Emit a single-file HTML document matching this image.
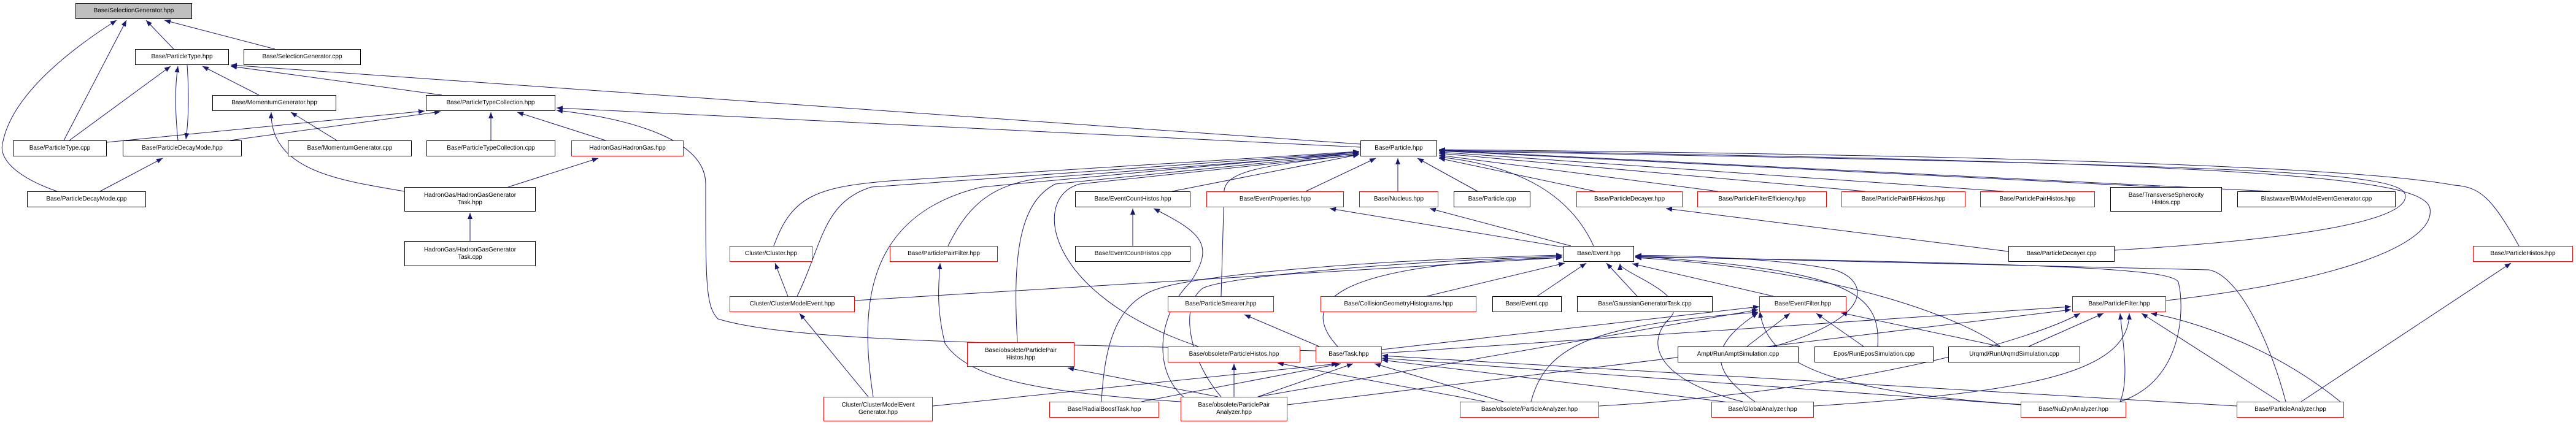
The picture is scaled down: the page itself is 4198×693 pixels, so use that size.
<!DOCTYPE html>
<html><head><meta charset="utf-8"><style>
body{margin:0;width:4198px;height:693px;background:#fff;position:relative;overflow:hidden;font-family:"Liberation Sans",Arial,sans-serif;}
.n{position:absolute;box-sizing:border-box;border:1px solid #000;background:#fff;font-size:10px;line-height:12px;text-align:center;display:flex;align-items:center;justify-content:center;white-space:nowrap;color:#000;}
.r{border-color:#ff0000;}
.g{background:#bfbfbf;}
svg{position:absolute;left:0;top:0;}
</style></head><body>
<svg width="4198" height="693" viewBox="0 0 4198 693">
<defs><marker id="a" markerWidth="10" markerHeight="8" refX="10" refY="4" orient="auto" markerUnits="userSpaceOnUse"><path d="M0,0 L10,4 L0,8 z" fill="#191970"/></marker></defs>
<g fill="none" stroke="#191970" stroke-width="1" marker-end="url(#a)">
<path d="M283,80 L238,33"/>
<path d="M448,80 L268,33"/>
<path d="M104,229 L206,33"/>
<path d="M93,312 C30,290 -5,260 5,230 C20,160 100,90 190,33"/>
<path d="M290,229 C285,180 285,140 290,108"/>
<path d="M305,106 C308,150 308,190 303,227"/>
<path d="M113,229 L278,108"/>
<path d="M422,155 L330,108"/>
<path d="M720,155 L376,108"/>
<path d="M2217,235 L376,106"/>
<path d="M174,232 L692,181"/>
<path d="M375,229 L718,182"/>
<path d="M800,229 L800,183"/>
<path d="M987,229 L843,183"/>
<path d="M2217,240 L907,176"/>
<path d="M2144,572 C1700,560 1300,560 1170,520 C1150,500 1150,460 1150,300 C1150,220 1000,190 907,180"/>
<path d="M549,229 L474,183"/>
<path d="M659,312 C560,295 440,280 442,183"/>
<path d="M828,305 L975,258"/>
<path d="M766,393 L766,347"/>
<path d="M163,312 L265,258"/>
<path d="M1261,401 C1290,320 1330,305 1450,295 L2215,247"/>
<path d="M1299,483 C1340,400 1340,330 1420,305 L2215,248"/>
<path d="M1423,647 C1400,500 1410,350 1600,305 L2215,248"/>
<path d="M1545,401 C1580,330 1620,300 1700,290 L2215,250"/>
<path d="M1658,558 C1650,420 1660,330 1720,300 L2215,250"/>
<path d="M1953,565 C1700,480 1680,320 1760,300 L2215,252"/>
<path d="M1910,312 L2215,252"/>
<path d="M1990,483 L1995,310 C2000,280 2050,270 2215,252"/>
<path d="M2128,312 L2242,258"/>
<path d="M2278,312 L2278,258"/>
<path d="M2408,312 L2310,258"/>
<path d="M2600,312 L2345,258"/>
<path d="M2800,312 L2345,253"/>
<path d="M3040,312 L2345,250"/>
<path d="M3265,312 L2345,248"/>
<path d="M3520,305 L2345,246"/>
<path d="M3700,312 L2345,245"/>
<path d="M2597,401 C2560,320 2480,270 2345,256"/>
<path d="M3446,408 C3750,390 3920,360 3920,320 C3920,280 3700,270 2345,246"/>
<path d="M3530,490 C3800,460 3970,400 3960,340 C3950,290 3700,265 2345,245"/>
<path d="M4105,401 C4060,320 4040,305 4000,302 C3800,265 3000,250 2345,244"/>
<path d="M2548,403 L2167,340"/>
<path d="M2560,401 L2330,340"/>
<path d="M1393,490 L2546,420"/>
<path d="M2180,565 C2120,500 2150,430 2546,420"/>
<path d="M2325,483 L2550,429"/>
<path d="M2505,483 L2585,429"/>
<path d="M2668,483 L2618,429"/>
<path d="M2890,483 L2660,430"/>
<path d="M2890,565 C3050,520 3050,460 2990,440 C2900,420 2700,415 2665,417"/>
<path d="M3060,565 C3065,480 3020,440 2665,418"/>
<path d="M3260,565 C3200,520 3000,440 2665,420"/>
<path d="M3455,655 C3560,620 3560,500 3550,460 C3540,440 3400,430 2665,419"/>
<path d="M3725,655 C3700,560 3650,450 3600,440 L2665,418"/>
<path d="M1795,655 C1800,560 1820,490 1890,470 C1950,450 2200,425 2546,416"/>
<path d="M1990,647 C1940,590 1920,500 1960,470 C2000,450 2300,425 2546,418"/>
<path d="M2840,655 C2700,620 2680,560 2720,520 C2760,480 2640,445 2640,430"/>
<path d="M2252,570 L2867,500"/>
<path d="M2847,565 L2917,511"/>
<path d="M3037,565 L2960,511"/>
<path d="M3260,565 L3000,510"/>
<path d="M2495,655 C2520,560 2600,530 2865,509"/>
<path d="M2050,647 L2865,505"/>
<path d="M2860,655 C2780,600 2790,560 2865,510"/>
<path d="M3300,660 C3000,640 2880,600 2868,508"/>
<path d="M2252,576 L3375,500"/>
<path d="M2098,660 L3375,505"/>
<path d="M2606,662 C3000,640 3300,560 3390,511"/>
<path d="M3306,565 L3428,511"/>
<path d="M3455,655 C3470,620 3460,560 3455,511"/>
<path d="M2956,662 C3300,640 3470,610 3470,511"/>
<path d="M3715,655 L3490,511"/>
<path d="M3820,660 C3700,560 3560,520 3505,511"/>
<path d="M1520,662 L2180,593"/>
<path d="M1860,655 L2185,593"/>
<path d="M2050,647 L2205,593"/>
<path d="M2450,655 L2240,593"/>
<path d="M2850,660 L2252,587"/>
<path d="M3293,660 L2252,584"/>
<path d="M3645,662 L2252,580"/>
<path d="M2420,655 L2082,592"/>
<path d="M2011,647 L2011,593"/>
<path d="M1985,647 L1740,600"/>
<path d="M1924,655 C1700,640 1580,620 1540,560 C1525,500 1530,460 1532,429"/>
<path d="M1415,647 L1303,511"/>
<path d="M1284,483 L1263,429"/>
<path d="M1846,401 L1846,340"/>
<path d="M1940,655 C1880,620 1880,520 1940,460 C1980,400 1960,380 1880,340"/>
<path d="M2150,565 L2028,513"/>
<path d="M3273,410 L2715,340"/>
<path d="M3750,655 L4092,429"/>
</g>
</svg>
<div class="n g" style="left:123px;top:5px;width:190px;height:26px">Base/SelectionGenerator.hpp</div>
<div class="n" style="left:220px;top:80px;width:153px;height:26px">Base/ParticleType.hpp</div>
<div class="n" style="left:397px;top:80px;width:191px;height:26px">Base/SelectionGenerator.cpp</div>
<div class="n" style="left:346px;top:155px;width:202px;height:26px">Base/MomentumGenerator.hpp</div>
<div class="n" style="left:694px;top:155px;width:211px;height:26px">Base/ParticleTypeCollection.hpp</div>
<div class="n" style="left:21px;top:229px;width:153px;height:26px">Base/ParticleType.cpp</div>
<div class="n" style="left:200px;top:229px;width:194px;height:26px">Base/ParticleDecayMode.hpp</div>
<div class="n" style="left:469px;top:229px;width:202px;height:26px">Base/MomentumGenerator.cpp</div>
<div class="n" style="left:695px;top:229px;width:210px;height:26px">Base/ParticleTypeCollection.cpp</div>
<div class="n r" style="left:931px;top:229px;width:183px;height:26px">HadronGas/HadronGas.hpp</div>
<div class="n" style="left:44px;top:312px;width:194px;height:26px">Base/ParticleDecayMode.cpp</div>
<div class="n" style="left:659px;top:305px;width:214px;height:40px">HadronGas/HadronGasGenerator<br>Task.hpp</div>
<div class="n" style="left:659px;top:393px;width:214px;height:41px">HadronGas/HadronGasGenerator<br>Task.cpp</div>
<div class="n" style="left:2217px;top:229px;width:125px;height:26px">Base/Particle.hpp</div>
<div class="n" style="left:1752px;top:312px;width:188px;height:26px">Base/EventCountHistos.hpp</div>
<div class="n r" style="left:1966px;top:312px;width:224px;height:26px">Base/EventProperties.hpp</div>
<div class="n r" style="left:2215px;top:312px;width:129px;height:26px">Base/Nucleus.hpp</div>
<div class="n" style="left:2369px;top:312px;width:125px;height:26px">Base/Particle.cpp</div>
<div class="n r" style="left:2569px;top:312px;width:173px;height:26px">Base/ParticleDecayer.hpp</div>
<div class="n r" style="left:2766px;top:312px;width:211px;height:26px">Base/ParticleFilterEfficiency.hpp</div>
<div class="n r" style="left:3001px;top:312px;width:202px;height:26px">Base/ParticlePairBFHistos.hpp</div>
<div class="n r" style="left:3227px;top:312px;width:187px;height:26px">Base/ParticlePairHistos.hpp</div>
<div class="n" style="left:3439px;top:305px;width:182px;height:40px">Base/TransverseSpherocity<br>Histos.cpp</div>
<div class="n" style="left:3646px;top:312px;width:258px;height:26px">Blastwave/BWModelEventGenerator.cpp</div>
<div class="n r" style="left:1189px;top:401px;width:135px;height:26px">Cluster/Cluster.hpp</div>
<div class="n r" style="left:1450px;top:401px;width:176px;height:26px">Base/ParticlePairFilter.hpp</div>
<div class="n" style="left:1752px;top:401px;width:188px;height:26px">Base/EventCountHistos.cpp</div>
<div class="n" style="left:2548px;top:401px;width:115px;height:26px">Base/Event.hpp</div>
<div class="n" style="left:3273px;top:401px;width:173px;height:26px">Base/ParticleDecayer.cpp</div>
<div class="n r" style="left:4030px;top:401px;width:163px;height:26px">Base/ParticleHistos.hpp</div>
<div class="n r" style="left:1189px;top:483px;width:204px;height:26px">Cluster/ClusterModelEvent.hpp</div>
<div class="n r" style="left:1903px;top:483px;width:173px;height:26px">Base/ParticleSmearer.hpp</div>
<div class="n r" style="left:2152px;top:483px;width:254px;height:26px">Base/CollisionGeometryHistograms.hpp</div>
<div class="n" style="left:2432px;top:483px;width:113px;height:26px">Base/Event.cpp</div>
<div class="n" style="left:2570px;top:483px;width:221px;height:26px">Base/GaussianGeneratorTask.cpp</div>
<div class="n r" style="left:2867px;top:483px;width:142px;height:26px">Base/EventFilter.hpp</div>
<div class="n r" style="left:3377px;top:483px;width:153px;height:26px">Base/ParticleFilter.hpp</div>
<div class="n r" style="left:1576px;top:558px;width:175px;height:40px">Base/obsolete/ParticlePair<br>Histos.hpp</div>
<div class="n r" style="left:1903px;top:565px;width:216px;height:26px">Base/obsolete/ParticleHistos.hpp</div>
<div class="n r" style="left:2144px;top:565px;width:108px;height:26px">Base/Task.hpp</div>
<div class="n" style="left:2734px;top:565px;width:197px;height:26px">Ampt/RunAmptSimulation.cpp</div>
<div class="n" style="left:2957px;top:565px;width:194px;height:26px">Epos/RunEposSimulation.cpp</div>
<div class="n" style="left:3175px;top:565px;width:215px;height:26px">Urqmd/RunUrqmdSimulation.cpp</div>
<div class="n r" style="left:1342px;top:647px;width:178px;height:40px">Cluster/ClusterModelEvent<br>Generator.hpp</div>
<div class="n r" style="left:1710px;top:655px;width:179px;height:26px">Base/RadialBoostTask.hpp</div>
<div class="n r" style="left:1924px;top:647px;width:174px;height:40px">Base/obsolete/ParticlePair<br>Analyzer.hpp</div>
<div class="n r" style="left:2379px;top:655px;width:227px;height:26px">Base/obsolete/ParticleAnalyzer.hpp</div>
<div class="n r" style="left:2789px;top:655px;width:167px;height:26px">Base/GlobalAnalyzer.hpp</div>
<div class="n r" style="left:3293px;top:655px;width:172px;height:26px">Base/NuDynAnalyzer.hpp</div>
<div class="n r" style="left:3645px;top:655px;width:175px;height:26px">Base/ParticleAnalyzer.hpp</div>
</body></html>
